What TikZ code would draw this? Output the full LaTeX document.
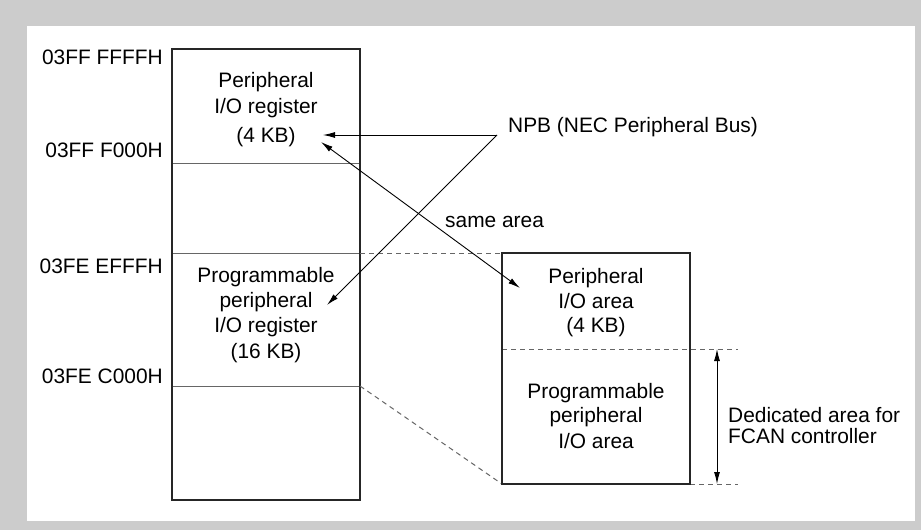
\documentclass[tikz,border=0pt]{standalone}
\usepackage{fontspec}
\setmainfont{Liberation Sans}
\usetikzlibrary{arrows.meta}
\begin{document}
\begin{tikzpicture}[x=1pt,y=-1pt,
  lbl/.style={anchor=base,inner sep=0pt,font=\fontsize{20.9}{25}\selectfont},
  addr/.style={lbl,anchor=base east},
  lft/.style={lbl,anchor=base west},
  frame/.style={draw=black!85,line width=2.2pt},
  sep/.style={draw=black!60,line width=1pt},
  dsh/.style={draw=black!60,line width=1pt,dash pattern=on 5pt off 4pt},
  tip/.style={Latex[length=12pt,width=6pt]},
  arr/.style={draw=black,line width=0.9pt,-{Latex[length=12pt,width=6pt]}},
  darr/.style={draw=black,line width=0.9pt,{Latex[length=12pt,width=6pt]}-{Latex[length=12pt,width=6pt]}}]
\fill[black!20] (0,0) rectangle (921,530);
\fill[white] (27,26) rectangle (915,521);
\useasboundingbox (0,0) rectangle (921,530);

% coordinates
\coordinate (L1) at (172,49);
\coordinate (L2) at (360,500);
\coordinate (R1) at (502,253);
\coordinate (R2) at (690,484);
\coordinate (npbj) at (497,135);
\coordinate (t1) at (323,135);
\coordinate (t2) at (327,305);
\coordinate (s1) at (321,142);
\coordinate (s2) at (520,288);
\coordinate (d1) at (717,349);
\coordinate (d2) at (717,484);

% left box separators
\draw[sep] (172,163) -- (360,163);
\draw[sep] (172,253) -- (360,253);
\draw[sep] (172,386) -- (360,386);
\draw[frame] (L1) rectangle (L2);

% right box
\draw[dsh] (502,349) -- (738,349);
\draw[dsh] (690,484) -- (738,484);
\draw[dsh] (360,253) -- (R1);
\draw[dsh] (360,386) -- (502,484);
\draw[frame] (R1) rectangle (R2);

% addresses
\node[addr] (a1) at (163,64) {03FF FFFFH};
\node[addr] (a2) at (163,157) {03FF F000H};
\node[addr] (a3) at (163,273) {03FE EFFFH};
\node[addr] (a4) at (163,383) {03FE C000H};

% left box texts
\node[lbl] (p1) at (266,87) {Peripheral};
\node[lbl] (p2) at (266,113) {I/O register};
\node[lbl] (p3) at (266,142) {(4 KB)};
\node[lbl] (q1) at (266,282) {Programmable};
\node[lbl] (q2) at (266,307) {peripheral};
\node[lbl] (q3) at (266,332) {I/O register};
\node[lbl] (q4) at (266,358) {(16 KB)};

% right box texts
\node[lbl] (r1) at (596,283) {Peripheral};
\node[lbl] (r2) at (596,308) {I/O area};
\node[lbl] (r3) at (596,332) {(4 KB)};
\node[lbl] (r4) at (596,398) {Programmable};
\node[lbl] (r5) at (596,422) {peripheral};
\node[lbl] (r6) at (596,448) {I/O area};

% other labels
\node[lft] (npb) at (508,132) {NPB (NEC Peripheral Bus)};
\node[lft] (same) at (445,227) {same area};
\node[lft] (ded1) at (728,422) {Dedicated area for};
\node[lft] (ded2) at (728,443) {FCAN controller};

% arrows
\draw[arr] (npbj) -- (t1);
\draw[arr] (npbj) -- (t2);
\draw[darr] (s1) -- (s2);
\draw[darr] (d1) -- (d2);
\end{tikzpicture}
\end{document}
